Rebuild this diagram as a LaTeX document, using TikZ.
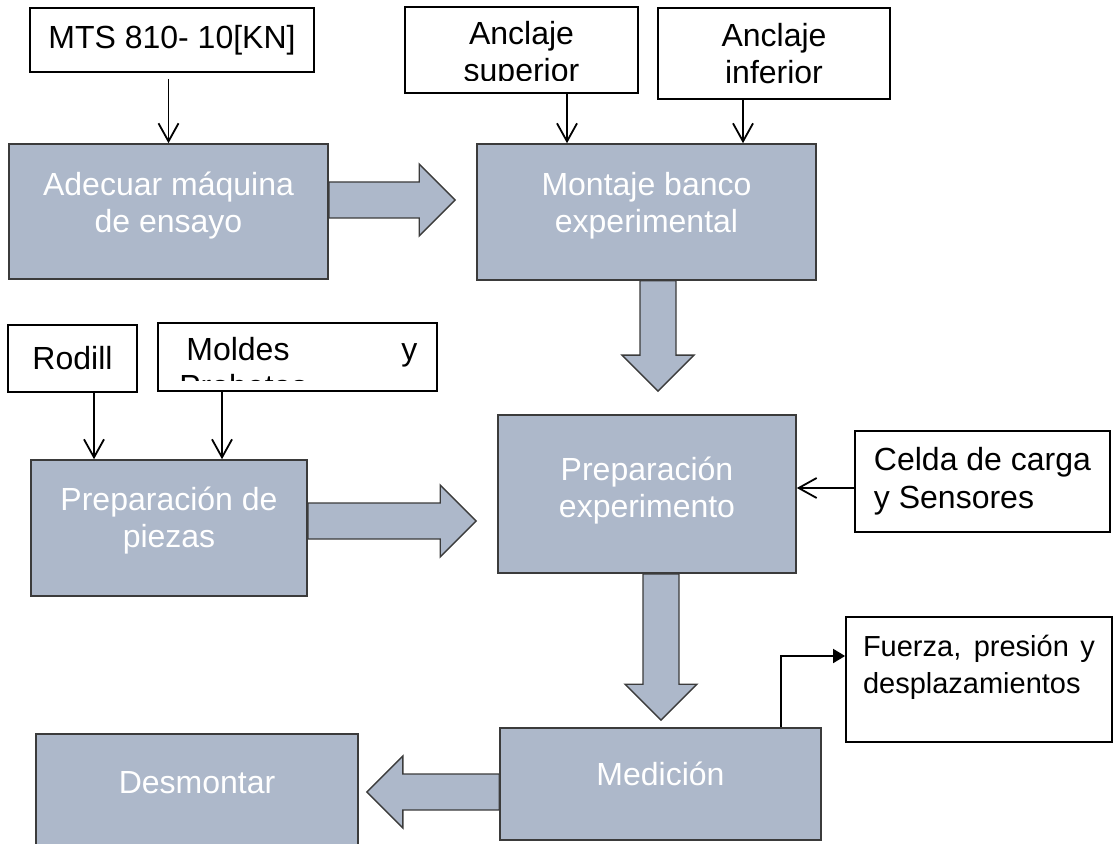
\documentclass[tikz,border=0pt]{standalone}
\usepackage{fontspec}
\setmainfont{Liberation Sans}
\usetikzlibrary{arrows.meta,calc}

\definecolor{stagefill}{HTML}{ADB8CA}
\definecolor{stageline}{HTML}{3B3B3B}

\newcommand\fatshaft{9pt}
\newcommand\fathead{18pt}
\newcommand\fatarrow[3]{%
  \coordinate (fa-t) at ($(#2)!#3!(#1)$);
  \coordinate (fa-h) at ($(fa-t)!\fathead!(#1)$);
  \draw[fat] ($(#1)!\fatshaft!90:(fa-t)$) -- ($(fa-h)!\fatshaft!90:(fa-t)$)
    -- ($(fa-h)!\fathead!90:(fa-t)$) -- (fa-t)
    -- ($(fa-h)!\fathead!-90:(fa-t)$) -- ($(fa-h)!\fatshaft!-90:(fa-t)$)
    -- ($(#1)!\fatshaft!-90:(fa-t)$) -- cycle;}

\tikzset{
  stage/.style={draw=stageline, fill=stagefill, text=white, line width=0.8pt,
    inner sep=0pt, align=center, font=\fontsize{16}{18.5}\selectfont},
  note/.style={draw=black, fill=white, line width=0.9pt, inner sep=0pt,
    align=center, font=\fontsize{16}{18.5}\selectfont},
  notetext/.style={inner sep=0pt, font=\fontsize{16}{18.5}\selectfont},
  feed/.style={line width=0.9pt, -{Straight Barb[length=9pt,width=10pt]}},
  outarrow/.style={line width=0.9pt, -{Triangle[length=6pt,width=7pt]}},
  fat/.style={draw=stageline, fill=stagefill, line width=0.7pt},
}

\begin{document}
\begin{tikzpicture}[x=0.5pt, y=-0.5pt]
\useasboundingbox (0,0) rectangle (1113,844);

\node[note, minimum width=142pt, minimum height=32pt] (mts) at (172,40) {MTS 810- 10[KN]};
\node[note, minimum width=116.5pt, minimum height=43pt] (sup) at (521.5,50) {};
\node[note, minimum width=116pt, minimum height=45.5pt] (inf) at (774,53.5) {Anclaje\\inferior};
\node[stage, minimum width=159.5pt, minimum height=67.5pt] (adecuar) at (168.5,211.5) {Adecuar máquina\\de ensayo\\[-9pt]};
\node[stage, minimum width=169.5pt, minimum height=68pt] (montaje) at (646.5,212) {Montaje banco\\experimental\\[-8.6pt]};
\node[note, minimum width=64.5pt, minimum height=33.5pt] (rodill) at (72.5,358.5) {Rodill};
\node[note, minimum width=139.5pt, minimum height=34pt] (moldes) at (297.5,357) {};
\node[stage, minimum width=138pt, minimum height=68pt] (piezas) at (169,528) {Preparación de\\piezas\\[-7.6pt]};
\node[stage, minimum width=149pt, minimum height=79pt] (exp) at (647,494) {Preparación\\experimento\\[-11.6pt]};
\node[note, align=left, font=\fontsize{16}{19}\selectfont, minimum width=127.5pt, minimum height=50.5pt] (celda) at (982.5,481.5) {Celda de carga\\y Sensores};
\node[stage, minimum width=160.5pt, minimum height=56pt] (medicion) at (660.5,784) {Medición\\[-8.1pt]};
\node[note, align=left, font=\fontsize{14.5}{18.5}\selectfont, minimum width=133pt, minimum height=62.5pt] (fuerza) at (979,679.5) {\makebox[116pt][s]{Fuerza, presión y}\\desplazamientos\\[-3.1pt]};
\node[stage, minimum width=161pt, minimum height=57pt] (desmontar) at (197,791) {Desmontar\\[-10.1pt]};

% textos recortados
\begin{scope}
  \clip (405,7) rectangle (638,81);
  \node[notetext, align=center, anchor=north] (suptxt) at (521.5,21) {Anclaje\\superior};
\end{scope}
\begin{scope}
  \clip (158,323) rectangle (437,381);
  \node[notetext, align=left, anchor=north west] (moldestxt) at (179,337) {\makebox[119pt][s]{\hspace*{3.5pt}Moldes y}\\Probetas};
\end{scope}

\draw[feed, shorten <=3pt] (mts.south -| adecuar.north) -- (adecuar.north);
\coordinate (s1) at ([xshift=22.75pt]sup.south);
\draw[feed] (s1) -- (s1 |- montaje.north);
\coordinate (s2) at ([xshift=-15.5pt]inf.south);
\draw[feed] (s2) -- (s2 |- montaje.north);
\coordinate (s3) at ([xshift=10.75pt]rodill.south);
\draw[feed] (s3) -- (s3 |- piezas.north);
\coordinate (s4) at ([xshift=-37.75pt]moldes.south);
\draw[feed] (s4) -- (s4 |- piezas.north);
\coordinate (s5) at ([yshift=-3.25pt]celda.west);
\draw[feed] (s5) -- (s5 -| exp.east);
\draw[outarrow] ([xshift=60.25pt]medicion.north) |- ([yshift=11.75pt]fuerza.west);

\coordinate (f1) at ([yshift=5.75pt]adecuar.east);
\fatarrow{f1}{f1 -| montaje.west}{10.5pt}
\coordinate (f2) at ([xshift=5.75pt]montaje.south);
\fatarrow{f2}{f2 |- exp.north}{11.5pt}
\coordinate (f3) at ([yshift=3.5pt]piezas.east);
\fatarrow{f3}{f3 -| exp.west}{10.5pt}
\coordinate (f4) at ([xshift=7pt]exp.south);
\fatarrow{f4}{f4 |- medicion.north}{3.5pt}
\coordinate (f5) at ([yshift=-4pt]medicion.west);
\fatarrow{f5}{f5 -| desmontar.east}{4pt}
\end{tikzpicture}
\end{document}
